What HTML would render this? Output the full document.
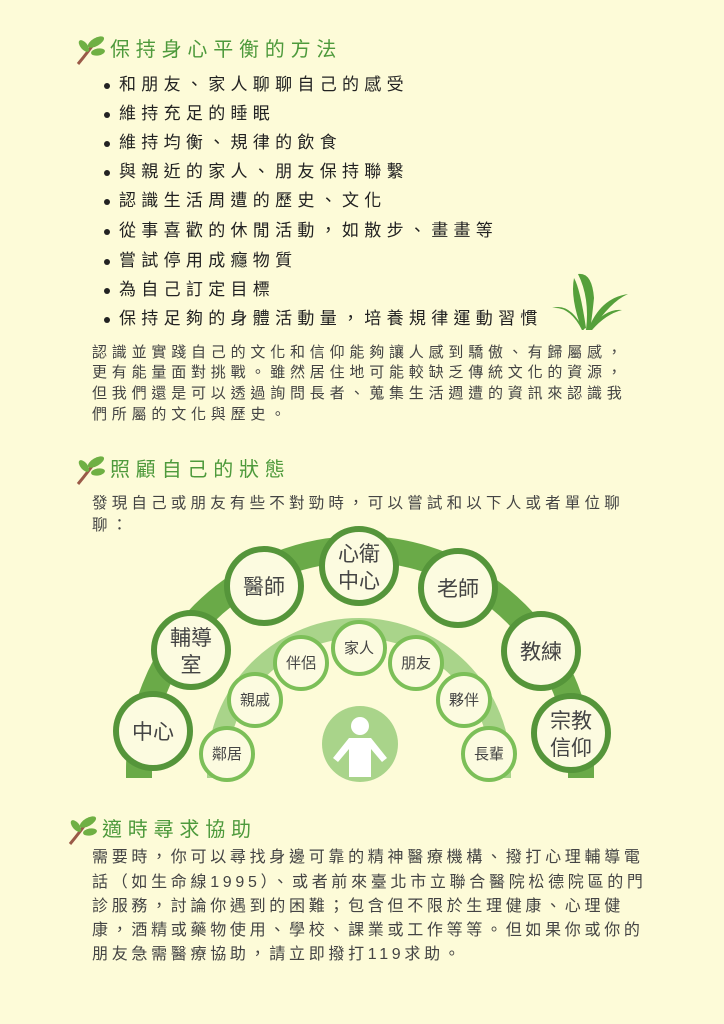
<!DOCTYPE html>
<html><head><meta charset="utf-8">
<style>
body{margin:0;width:724px;height:1024px;background:#fdfbd8;position:relative;overflow:hidden;font-family:"Liberation Sans","Noto Sans CJK TC",sans-serif;color:#3d3d3d}
.h{position:absolute;color:#4e9a3c;font-size:20px;letter-spacing:5.8px;line-height:24px;white-space:nowrap}
.b{position:absolute;left:104px;font-size:17px;letter-spacing:5.3px;line-height:22px;white-space:nowrap;color:#222}
.b::before{content:"";position:absolute;left:0;top:9px;width:6px;height:6px;border-radius:50%;background:#222}
.b span{margin-left:15px}
.p{position:absolute;left:92px;font-size:15px;letter-spacing:4.8px;line-height:20px;white-space:nowrap;color:#444}
.q{position:absolute;left:92px;font-size:16px;letter-spacing:3.7px;line-height:22px;white-space:nowrap;color:#444}
</style></head><body>
<svg width="0" height="0" style="position:absolute"><defs>
<g id="leaf"><path d="M4 30 Q14 18 24 4" stroke="#9a5a48" stroke-width="3" fill="none"/><ellipse cx="22" cy="8" rx="9" ry="4" fill="#6fb044" transform="rotate(-30 22 8)"/><ellipse cx="10" cy="12" rx="7" ry="3.5" fill="#6fb044" transform="rotate(50 10 12)"/><ellipse cx="24" cy="18" rx="7" ry="3.5" fill="#6fb044" transform="rotate(-10 24 18)"/></g>
</defs></svg>
<svg style="position:absolute;left:74px;top:34px" width="34" height="34"><use href="#leaf"/></svg>
<div class="h" style="left:110px;top:38px">保持身心平衡的方法</div>
<div class="b" style="top:74px"><span>和朋友、家人聊聊自己的感受</span></div>
<div class="b" style="top:103px"><span>維持充足的睡眠</span></div>
<div class="b" style="top:132px"><span>維持均衡、規律的飲食</span></div>
<div class="b" style="top:161px"><span>與親近的家人、朋友保持聯繫</span></div>
<div class="b" style="top:190px"><span>認識生活周遭的歷史、文化</span></div>
<div class="b" style="top:220px"><span>從事喜歡的休閒活動，如散步、畫畫等</span></div>
<div class="b" style="top:250px"><span>嘗試停用成癮物質</span></div>
<div class="b" style="top:279px"><span>為自己訂定目標</span></div>
<div class="b" style="top:308px"><span>保持足夠的身體活動量，培養規律運動習慣</span></div>
<svg style="position:absolute;left:550px;top:268px" width="85" height="65">
<g fill="#55a03a"><path d="M32 62 Q20 30 24 10 Q30 20 36 60Z"/><path d="M36 62 Q40 30 28 6 Q42 4 44 30 Q42 50 40 62Z"/><path d="M38 62 Q50 30 78 26 Q60 34 42 62Z"/><path d="M40 60 Q56 40 72 42 Q56 46 42 62Z"/><path d="M34 62 Q20 34 2 40 Q20 38 32 62Z"/></g></svg>
<div class="p" style="top:343px">認識並實踐自己的文化和信仰能夠讓人感到驕傲、有歸屬感，</div>
<div class="p" style="top:363px">更有能量面對挑戰。雖然居住地可能較缺乏傳統文化的資源，</div>
<div class="p" style="top:384px">但我們還是可以透過詢問長者、蒐集生活週遭的資訊來認識我</div>
<div class="p" style="top:405px">們所屬的文化與歷史。</div>
<svg style="position:absolute;left:74px;top:454px" width="34" height="34"><use href="#leaf"/></svg>
<div class="h" style="left:110px;top:458px">照顧自己的狀態</div>
<div class="p" style="top:494px;font-size:15.5px;letter-spacing:4.2px">發現自己或朋友有些不對勁時，可以嘗試和以下人或者單位聊</div>
<div class="p" style="top:516px;font-size:15.5px;letter-spacing:4.2px">聊：</div>
<svg style="position:absolute;left:0;top:520px" width="724" height="270" font-family="Liberation Sans, Noto Sans CJK TC, sans-serif">
<g transform="translate(0,-520)">
<path d="M139 778 L139 770 A221 221 0 0 1 581 770 L581 778" fill="none" stroke="#6aaa48" stroke-width="26"/>
<path d="M217 778 L217 770 A142 142 0 0 1 501 770 L501 778" fill="none" stroke="#a9d48a" stroke-width="20"/>
<circle cx="360" cy="744" r="38" fill="#a9d48a"/>
<g fill="#fff"><circle cx="360" cy="726" r="9"/><path d="M349 738 h22 l16 20 -5 4 -11 -13 v28 h-22 v-28 l-11 13 -5 -4z"/></g>
<g id="outer" fill="#fcfbe0" stroke="#55953a" stroke-width="6"></g>
<g id="inner" fill="#fcfbe0" stroke="#7cbf58" stroke-width="4"></g>
</g></svg>
<script>
const outerLabels=[["中心"],["輔導","室"],["醫師"],["心衛","中心"],["老師"],["教練"],["宗教","信仰"]];
const outerPos=[[153,731],[191,650],[264,586],[359,566],[458,588],[541,651],[571,733]];
const innerLabels=["鄰居","親戚","伴侶","家人","朋友","夥伴","長輩"];
const innerPos=[[227,754],[255,700],[301,663],[359,648],[416,663],[464,700],[489,754]];
const NS="http://www.w3.org/2000/svg";
const og=document.getElementById('outer'),ig=document.getElementById('inner');
outerLabels.forEach((l,i)=>{const g=document.createElementNS(NS,'g');


const c=document.createElementNS(NS,'circle');c.setAttribute('cx',outerPos[i][0]);c.setAttribute('cy',outerPos[i][1]);c.setAttribute('r',37);g.appendChild(c);
l.forEach((s,j)=>{const t=document.createElementNS(NS,'text');t.setAttribute('x',outerPos[i][0]);t.setAttribute('y',outerPos[i][1]+8+(l.length==2?(j==0?-13:14):0));t.setAttribute('text-anchor','middle');t.setAttribute('font-size','21');t.setAttribute('fill','#444');t.setAttribute('stroke','none');t.textContent=s;g.appendChild(t);});
og.appendChild(g);});
innerLabels.forEach((l,i)=>{const g=document.createElementNS(NS,'g');


const c=document.createElementNS(NS,'circle');c.setAttribute('cx',innerPos[i][0]);c.setAttribute('cy',innerPos[i][1]);c.setAttribute('r',26);g.appendChild(c);
const t=document.createElementNS(NS,'text');t.setAttribute('x',innerPos[i][0]);t.setAttribute('y',innerPos[i][1]+5);t.setAttribute('text-anchor','middle');t.setAttribute('font-size','15');t.setAttribute('fill','#444');t.setAttribute('stroke','none');t.textContent=l;g.appendChild(t);
ig.appendChild(g);});
</script>
<svg style="position:absolute;left:66px;top:814px" width="34" height="34"><use href="#leaf"/></svg>
<div class="h" style="left:102px;top:818px">適時尋求協助</div>
<div class="q" style="top:847px">需要時，你可以尋找身邊可靠的精神醫療機構、撥打心理輔導電</div>
<div class="q" style="top:872px">話（如生命線1995）、或者前來臺北市立聯合醫院松德院區的門</div>
<div class="q" style="top:896px">診服務，討論你遇到的困難；包含但不限於生理健康、心理健</div>
<div class="q" style="top:920px">康，酒精或藥物使用、學校、課業或工作等等。但如果你或你的</div>
<div class="q" style="top:944px">朋友急需醫療協助，請立即撥打119求助。</div>
</body></html>
